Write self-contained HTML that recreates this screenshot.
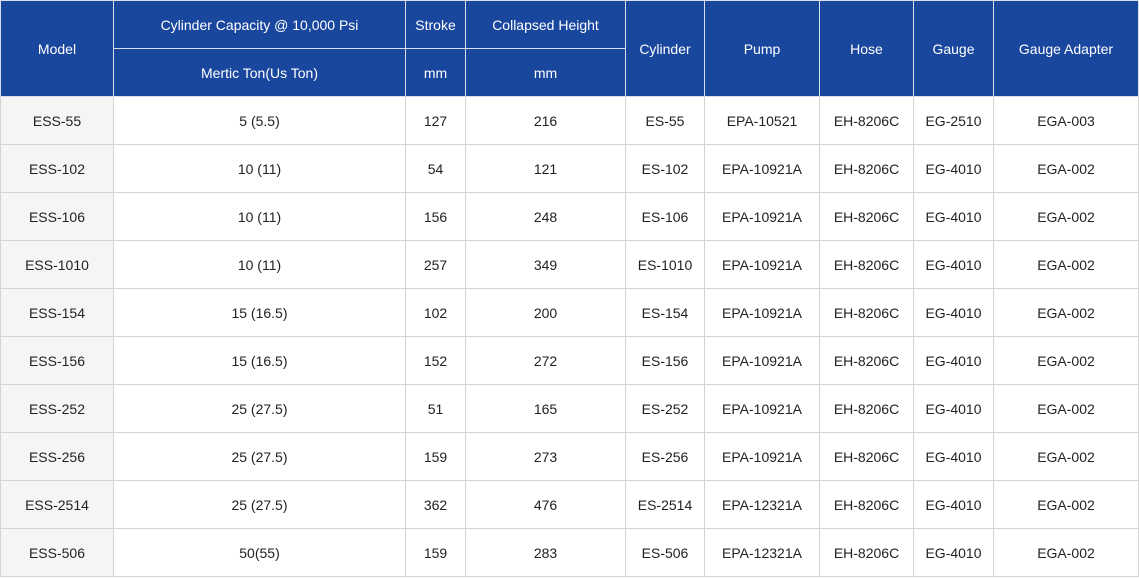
<!DOCTYPE html>
<html><head><meta charset="utf-8"><style>
html,body{margin:0;padding:0;background:#fff;width:1139px;height:582px;overflow:hidden}
table{border-collapse:collapse;table-layout:fixed;width:1138px;font-family:"Liberation Sans",sans-serif;font-size:14px;color:#222}
td,th{border:1px solid #d4d4d4;text-align:center;padding:0;height:47px;font-weight:normal}
th{background:#1a479e;color:#fff;border-color:#d8deea}
td.m{background:#f5f5f5}
</style></head><body>
<table>
<colgroup><col style="width:113px"><col style="width:292px"><col style="width:60px"><col style="width:160px"><col style="width:79px"><col style="width:115px"><col style="width:94px"><col style="width:80px"><col style="width:145px"></colgroup>
<thead>
<tr><th rowspan="2">Model</th><th>Cylinder Capacity @ 10,000 Psi</th><th>Stroke</th><th>Collapsed Height</th><th rowspan="2">Cylinder</th><th rowspan="2">Pump</th><th rowspan="2">Hose</th><th rowspan="2">Gauge</th><th rowspan="2">Gauge Adapter</th></tr>
<tr><th>Mertic Ton(Us Ton)</th><th>mm</th><th>mm</th></tr>
</thead>
<tbody>
<tr><td class="m">ESS-55</td><td>5 (5.5)</td><td>127</td><td>216</td><td>ES-55</td><td>EPA-10521</td><td>EH-8206C</td><td>EG-2510</td><td>EGA-003</td></tr>
<tr><td class="m">ESS-102</td><td>10 (11)</td><td>54</td><td>121</td><td>ES-102</td><td>EPA-10921A</td><td>EH-8206C</td><td>EG-4010</td><td>EGA-002</td></tr>
<tr><td class="m">ESS-106</td><td>10 (11)</td><td>156</td><td>248</td><td>ES-106</td><td>EPA-10921A</td><td>EH-8206C</td><td>EG-4010</td><td>EGA-002</td></tr>
<tr><td class="m">ESS-1010</td><td>10 (11)</td><td>257</td><td>349</td><td>ES-1010</td><td>EPA-10921A</td><td>EH-8206C</td><td>EG-4010</td><td>EGA-002</td></tr>
<tr><td class="m">ESS-154</td><td>15 (16.5)</td><td>102</td><td>200</td><td>ES-154</td><td>EPA-10921A</td><td>EH-8206C</td><td>EG-4010</td><td>EGA-002</td></tr>
<tr><td class="m">ESS-156</td><td>15 (16.5)</td><td>152</td><td>272</td><td>ES-156</td><td>EPA-10921A</td><td>EH-8206C</td><td>EG-4010</td><td>EGA-002</td></tr>
<tr><td class="m">ESS-252</td><td>25 (27.5)</td><td>51</td><td>165</td><td>ES-252</td><td>EPA-10921A</td><td>EH-8206C</td><td>EG-4010</td><td>EGA-002</td></tr>
<tr><td class="m">ESS-256</td><td>25 (27.5)</td><td>159</td><td>273</td><td>ES-256</td><td>EPA-10921A</td><td>EH-8206C</td><td>EG-4010</td><td>EGA-002</td></tr>
<tr><td class="m">ESS-2514</td><td>25 (27.5)</td><td>362</td><td>476</td><td>ES-2514</td><td>EPA-12321A</td><td>EH-8206C</td><td>EG-4010</td><td>EGA-002</td></tr>
<tr><td class="m">ESS-506</td><td>50(55)</td><td>159</td><td>283</td><td>ES-506</td><td>EPA-12321A</td><td>EH-8206C</td><td>EG-4010</td><td>EGA-002</td></tr>
</tbody></table>
</body></html>
